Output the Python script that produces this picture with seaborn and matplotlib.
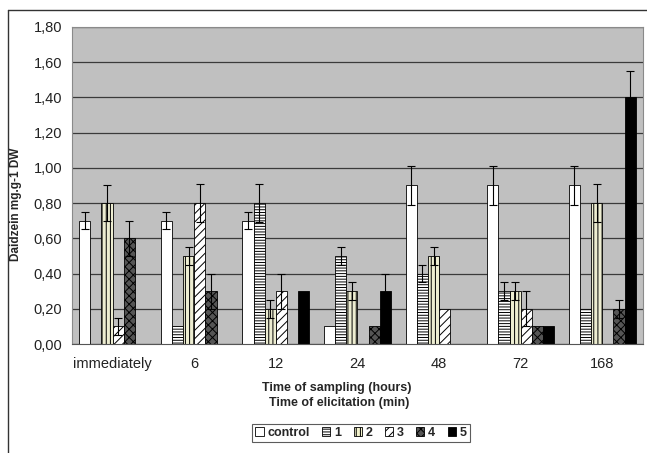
import numpy as np
import pandas as pd
import matplotlib
matplotlib.use("Agg")
import matplotlib.pyplot as plt
import matplotlib.patches as mpatches
import matplotlib.ticker as mticker
from matplotlib.lines import Line2D
import seaborn as sns

# ── data ──────────────────────────────────────────────
groups = ['immediately', '6', '12', '24', '48', '72', '168']
series = ['control', '1', '2', '3', '4', '5']

control = [0.70, 0.70, 0.70, 0.10, 0.90, 0.90, 0.90]
elic_1  = [0.00, 0.10, 0.80, 0.50, 0.40, 0.30, 0.20]
elic_2  = [0.80, 0.50, 0.20, 0.30, 0.50, 0.30, 0.80]
elic_3  = [0.10, 0.80, 0.30, 0.00, 0.20, 0.20, 0.00]
elic_4  = [0.60, 0.30, 0.00, 0.10, 0.00, 0.10, 0.20]
elic_5  = [0.00, 0.00, 0.30, 0.30, 0.00, 0.10, 1.40]

err_control = [0.05, 0.05, 0.05, 0.00, 0.11, 0.11, 0.11]
err_1       = [0.00, 0.00, 0.11, 0.05, 0.05, 0.05, 0.00]
err_2       = [0.10, 0.05, 0.05, 0.05, 0.05, 0.05, 0.11]
err_3       = [0.05, 0.11, 0.10, 0.00, 0.00, 0.10, 0.00]
err_4       = [0.10, 0.10, 0.00, 0.00, 0.00, 0.00, 0.05]
err_5       = [0.00, 0.00, 0.00, 0.10, 0.00, 0.00, 0.15]

values = dict(zip(series, [control, elic_1, elic_2, elic_3, elic_4, elic_5]))
errors = dict(zip(series, [err_control, err_1, err_2, err_3, err_4, err_5]))

df = pd.DataFrame([(g, s, values[s][i]) for s in series for i, g in enumerate(groups)],
                  columns=['time', 'treatment', 'value'])

# ── styling per series (Excel-like fills) ────────────
face = {'control': 'white', '1': 'white', '2': '#f2f2cc', '3': 'white', '4': '#555555', '5': 'black'}
hatch = {'control': '', '1': '------', '2': '||||', '3': '////', '4': 'xxxx', '5': ''}

sns.set_style("white")
plt.rcParams['font.family'] = ['Liberation Sans', 'DejaVu Sans']
plt.rcParams['hatch.linewidth'] = 0.7

fig = plt.figure(figsize=(6.47, 4.53), dpi=100)
ax = fig.add_axes([0.111, 0.2406, 0.883, 0.700])
ax.set_facecolor('#c0c0c0')

sns.barplot(data=df, x='time', y='value', hue='treatment', order=groups, hue_order=series,
            palette=face, width=0.82, edgecolor='black', linewidth=0.6, errorbar=None,
            legend=False, ax=ax)

for cont, s in zip(ax.containers, series):
    for bar in cont:
        bar.set_hatch(hatch[s])
        h = bar.get_height()
        if h <= 0:
            bar.set_visible(False)
            continue
        xc = bar.get_x() + bar.get_width() / 2
        gi = int(round(xc))
        e = errors[s][gi]
        if e > 0:
            ax.errorbar(xc, h, yerr=e, fmt='none', ecolor='black', elinewidth=0.8,
                        capsize=3, capthick=0.8, zorder=5)

# axes
ax.set_ylim(0, 1.8)
ax.set_xlim(-0.5, len(groups) - 0.5)
ax.set_yticks(np.arange(0, 1.81, 0.2))
ax.yaxis.set_major_formatter(mticker.FuncFormatter(lambda v, p: f'{v:.2f}'.replace('.', ',')))
ax.yaxis.grid(True, color='#3a3a3a', linewidth=0.9)
ax.set_axisbelow(True)

ax.set_xticks(np.arange(-0.5, len(groups), 1.0))
ax.set_xticklabels([])
ax.set_xticks(np.arange(len(groups)), minor=True)
ax.set_xticklabels(groups, minor=True)
ax.tick_params(axis='x', which='minor', length=0, pad=9, labelsize=10.5, labelcolor='#222222')
ax.tick_params(axis='x', which='major', length=4, direction='out', color='#777777', width=0.8)
ax.tick_params(axis='y', length=4, direction='out', color='#777777', width=0.8,
               labelsize=10.5, labelcolor='#222222', pad=3)

for side in ['left', 'bottom', 'top', 'right']:
    ax.spines[side].set_color('#8a8a8a')
    ax.spines[side].set_linewidth(0.8)
ax.spines['bottom'].set_color('#555555')

ax.set_xlabel('')
ax.set_ylabel('Daidzein mg.g-1 DW', fontsize=8.5, fontweight='bold')
ax.yaxis.set_label_coords(-0.088, 0.44)

fig.text(0.521, 1 - 388 / 453, 'Time of sampling (hours)', ha='center', va='center',
         fontsize=9, fontweight='bold')
fig.text(0.524, 1 - 403 / 453, 'Time of elicitation (min)', ha='center', va='center',
         fontsize=9, fontweight='bold')

handles = [mpatches.Patch(facecolor=face[s], edgecolor='black', hatch=hatch[s], linewidth=0.6)
           for s in series]
leg = fig.legend(handles, series, loc='center', bbox_to_anchor=(0.558, 1 - 433 / 453), ncol=6,
                 frameon=True, fancybox=False, handlelength=0.65, handleheight=0.65,
                 handletextpad=0.3, columnspacing=1.0, borderpad=0.25,
                 prop={'size': 9, 'weight': 'bold'})
leg.get_frame().set_edgecolor('#333333')
leg.get_frame().set_linewidth(0.8)

# outer chart frame (left and top edges visible in the crop)
fig.add_artist(Line2D([8 / 647, 8 / 647], [0, 1 - 10 / 453], transform=fig.transFigure,
                      color='#333333', linewidth=1))
fig.add_artist(Line2D([8 / 647, 1], [1 - 10 / 453, 1 - 10 / 453], transform=fig.transFigure,
                      color='#333333', linewidth=1))

fig.savefig('out.png', dpi=100)
